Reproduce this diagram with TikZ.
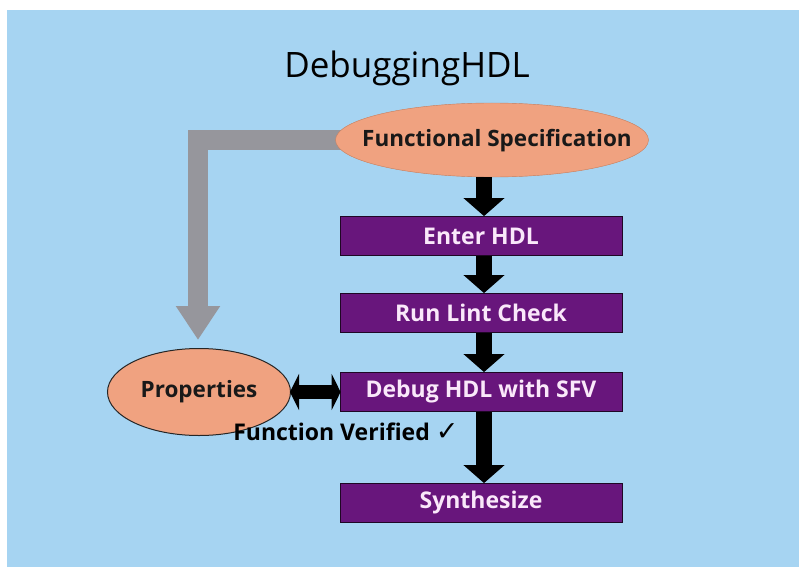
\documentclass[tikz,border=0pt]{standalone}
\usepackage{fontspec}
\setmainfont{Open Sans}
\newfontfamily\symfont{DejaVu Sans}
\usetikzlibrary{arrows.meta,shapes.geometric}
\definecolor{bgblue}{RGB}{166,212,242}
\definecolor{boxpurple}{RGB}{104,22,124}
\definecolor{boxtext}{RGB}{250,232,250}
\definecolor{salmon}{RGB}{240,162,128}
\definecolor{arrowgray}{RGB}{150,150,156}
\tikzset{
  stepbox/.style={draw=black!70!boxpurple, line width=0.8pt, fill=boxpurple, text=boxtext,
    minimum width=282pt, minimum height=39pt, inner sep=0pt,
    font=\fontsize{23}{25}\selectfont\bfseries},
  oval/.style={ellipse, draw=black!85, line width=1pt, fill=salmon, inner sep=0pt},
  ovaltext/.style={inner sep=0pt, text=black!90, font=\fontsize{22.5}{24}\selectfont\bfseries},
  flowarrow/.style={line width=16pt, -{Triangle[width=40pt,length=18pt]}},
  grayarrow/.style={draw=arrowgray, line width=20pt, line join=miter,
    -{Triangle[width=42pt,length=34pt]}},
  dblarrow/.style={line width=14pt, {Triangle[width=36pt,length=9pt]}-{Triangle[width=36pt,length=9pt]}}
}
\begin{document}
\begin{tikzpicture}[x=1pt,y=-1pt]
\useasboundingbox (0,0) rectangle (799,567);
\fill[white] (0,0) rectangle (799,567);
\fill[bgblue] (7,10) rectangle (799,567);
\node[font=\fontsize{35}{38}\selectfont] (title) at (407,68) {DebuggingHDL};
\node[oval, draw=none, minimum width=313pt, minimum height=74pt] (fs) at (492,140) {};
\node[oval, minimum width=183pt, minimum height=87pt] (props) at (199,392) {};
\node[ovaltext] (propstext) at (props.center) {Properties};
\draw[grayarrow] (fs.center) -| ([shift={(-1,-8)}]props.north);
\node[oval, draw=salmon!80!black, line width=0.4pt, minimum width=313pt, minimum height=74pt] (fs2) at (492,140) {};
\node[ovaltext] (fstext) at (497,141) {Functional Specification};
\node[stepbox] (enter) at (481,236) {Enter HDL};
\node[stepbox] (lint) at (481,313) {Run Lint Check};
\node[stepbox] (debug) at (481,392) {Debug HDL with SFV};
\node[stepbox] (synth) at (481,503) {Synthesize};
\draw[flowarrow] ([xshift=3pt]enter.north |- fs2.south) -- ([xshift=3pt]enter.north);
\draw[flowarrow] ([xshift=3pt]enter.south) -- ([xshift=3pt]lint.north);
\draw[flowarrow] ([xshift=3pt]lint.south) -- ([xshift=3pt]debug.north);
\draw[flowarrow] ([xshift=3pt]debug.south) -- ([xshift=3pt]synth.north);
\draw[dblarrow] ([xshift=-1pt]props.east) -- ([xshift=1pt]debug.west);
\node[font=\fontsize{23}{25}\selectfont\bfseries, anchor=east] (fv) at (462,432)
  {Function Verified {\symfont\fontsize{27}{28}\selectfont\mdseries ✓}};
\end{tikzpicture}
\end{document}
